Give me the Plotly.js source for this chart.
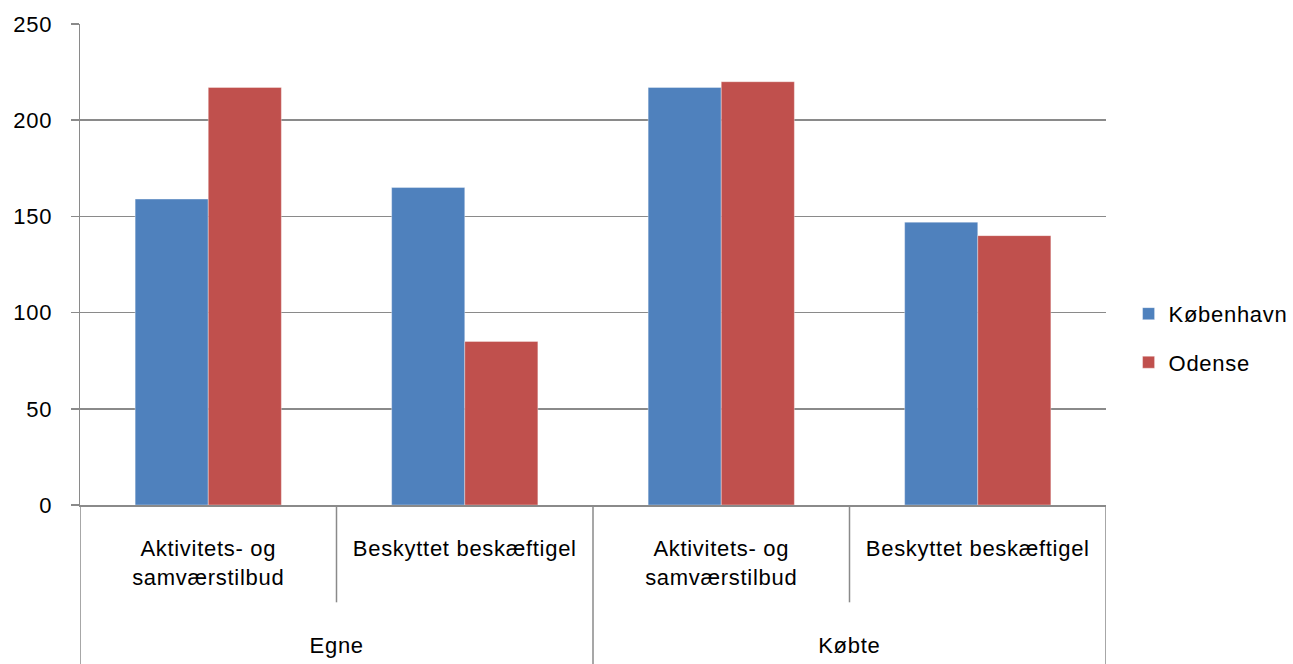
<!DOCTYPE html>
<html>
<head>
<meta charset="utf-8">
<script src="https://cdn.plot.ly/plotly-3.0.1.min.js"></script>
<style>
  html, body { margin: 0; padding: 0; background: #fff; }
  #chart { width: 1293px; height: 664px; }
  .main-svg text { letter-spacing: 0.7px; }
</style>
</head>
<body>
<div id="chart"></div>
<script>
// ---- data ----
const groups = ['Egne', 'Egne', 'Købte', 'Købte'];
const subcats = ['Aktivitets- og<br>samværstilbud', 'Beskyttet beskæftigel', 'Aktivitets- og<br>samværstilbud', 'Beskyttet beskæftigel'];
const seriesNames = ['København', 'Odense'];
const kobenhavn = [159, 165, 217, 147];
const odense = [217, 85, 220, 140];
const yTicks = [0, 50, 100, 150, 200, 250];
const outerGroups = ['Egne', 'Købte'];

// unique keys for the category axis
const keys = groups.map((g, i) => g + ' | ' + subcats[i].replace('<br>', ' '));

const FONT = 'Liberation Sans, Arial, sans-serif';
const FS = 22;
const GRID = '#8a8a8a';

const traces = [
  {
    type: 'bar', name: seriesNames[0], x: keys, y: kobenhavn,
    marker: { color: '#4F81BD', line: { color: 'rgba(255,255,255,0.35)', width: 1 } },
    legendgroup: 'a', hoverinfo: 'y'
  },
  {
    type: 'bar', name: seriesNames[1], x: keys, y: odense,
    marker: { color: '#C0504D', line: { color: 'rgba(255,255,255,0.35)', width: 1 } },
    legendgroup: 'b', hoverinfo: 'y'
  }
];

// divider shapes below the axis: inner separators shorter, group separators long
const shapes = [];
const nCat = keys.length;
for (let b = 0; b <= nCat; b++) {
  const pos = b - 0.5;
  const isGroupEdge = (b === 0 || b === nCat || groups[b] !== groups[b - 1]);
  shapes.push({
    type: 'line', xref: 'x', yref: 'paper',
    x0: pos, x1: pos, y0: 0, y1: isGroupEdge ? -0.34 : -0.2023,
    line: { color: GRID, width: 1.5 }
  });
}

// outer group labels
const annotations = outerGroups.map(g => {
  const idx = groups.map((x, i) => x === g ? i : -1).filter(i => i >= 0);
  const center = (idx[0] + idx[idx.length - 1]) / 2;
  return {
    xref: 'x', yref: 'paper', x: center, y: -0.2915,
    text: g, showarrow: false, xanchor: 'center', yanchor: 'middle',
    font: { family: FONT, size: FS, color: '#000' }
  };
});

const layout = {
  width: 1293, height: 664,
  margin: { l: 80, r: 187, t: 24, b: 158.5, autoexpand: false },
  paper_bgcolor: '#fff', plot_bgcolor: '#fff',
  barmode: 'group', bargap: 0.43, bargroupgap: 0,
  font: { family: FONT, size: FS, color: '#000' },
  showlegend: true,
  legend: {
    x: 1.022, xanchor: 'left', y: 0.3465, yanchor: 'middle',
    font: { family: FONT, size: FS, color: '#000' },
    traceorder: 'grouped', tracegroupgap: 17,
    bgcolor: 'rgba(0,0,0,0)', borderwidth: 0
  },
  xaxis: {
    type: 'category', categoryorder: 'array', categoryarray: keys,
    tickvals: keys, ticktext: subcats,
    range: [-0.5, nCat - 0.5],
    showline: true, linecolor: GRID, linewidth: 1.5,
    ticks: '', showgrid: false, zeroline: false,
    ticklabelstandoff: 23,
    tickfont: { family: FONT, size: FS, color: '#000' },
    fixedrange: true
  },
  yaxis: {
    range: [0, 250], tickvals: yTicks, ticktext: yTicks.map(String),
    showline: true, linecolor: GRID, linewidth: 1.5,
    ticks: 'outside', ticklen: 8, tickcolor: GRID, tickwidth: 1.5,
    showgrid: true, gridcolor: GRID, gridwidth: 1.5,
    zeroline: false,
    ticklabelstandoff: 14,
    tickfont: { family: FONT, size: FS, color: '#000' },
    fixedrange: true
  },
  shapes: shapes,
  annotations: annotations
};

Plotly.newPlot('chart', traces, layout, { displayModeBar: false, staticPlot: true });
</script>
</body>
</html>
